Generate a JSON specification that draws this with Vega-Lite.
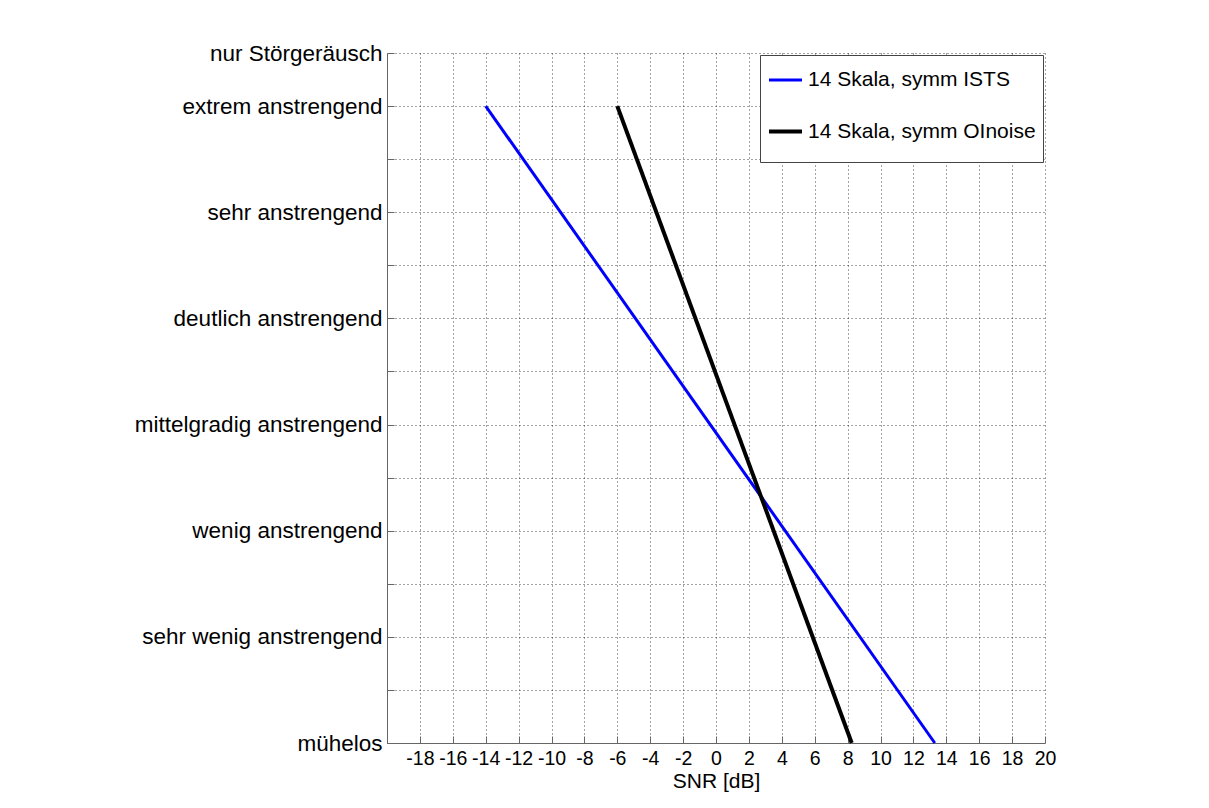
{
  "$schema": "https://vega.github.io/schema/vega-lite/v6.json",
  "width": 658,
  "height": 690,
  "autosize": {"type": "none"},
  "padding": {"left": 387, "top": 53, "right": 164, "bottom": 65},
  "background": "white",
  "config": {
    "view": {"stroke": null},
    "font": "Liberation Sans",
    "axis": {
      "domainColor": "#666666",
      "domainWidth": 1,
      "tickColor": "#666666",
      "tickSize": -7,
      "tickWidth": 1,
      "grid": true,
      "gridColor": "#333333",
      "gridDash": [1, 3],
      "gridWidth": 1,
      "gridOpacity": 0.9,
      "labelColor": "#000000",
      "labelFont": "Liberation Sans",
      "labelOverlap": false,
      "labelFlush": false,
      "titleColor": "#000000",
      "titleFont": "Liberation Sans",
      "titleFontWeight": "normal"
    }
  },
  "data": {
    "values": [
      {"snr": -14, "rating": 13, "series": "14 Skala, symm ISTS"},
      {"snr": 13.3, "rating": 1, "series": "14 Skala, symm ISTS"},
      {"snr": -6, "rating": 13, "series": "14 Skala, symm OInoise"},
      {"snr": 8.25, "rating": 1, "series": "14 Skala, symm OInoise"}
    ]
  },
  "mark": {"type": "line", "strokeCap": "butt"},
  "encoding": {
    "x": {
      "field": "snr",
      "type": "quantitative",
      "scale": {"domain": [-20, 20], "nice": false, "zero": false},
      "axis": {
        "values": [-18, -16, -14, -12, -10, -8, -6, -4, -2, 0, 2, 4, 6, 8, 10, 12, 14, 16, 18, 20],
        "title": "SNR [dB]",
        "titleFontSize": 21,
        "titleBaseline": "alphabetic",
        "titleY": 44,
        "labelFontSize": 19.5,
        "labelPadding": 13,
        "labelExpr": "'' + datum.value"
      }
    },
    "y": {
      "field": "rating",
      "type": "quantitative",
      "scale": {"domain": [1, 14], "nice": false, "zero": false},
      "axis": {
        "values": [1, 2, 3, 4, 5, 6, 7, 8, 9, 10, 11, 12, 13, 14],
        "title": null,
        "labelFontSize": 22.5,
        "labelPadding": 12,
        "labelLimit": 400,
        "labelExpr": "datum.value == 1 ? 'mühelos' : datum.value == 3 ? 'sehr wenig anstrengend' : datum.value == 5 ? 'wenig anstrengend' : datum.value == 7 ? 'mittelgradig anstrengend' : datum.value == 9 ? 'deutlich anstrengend' : datum.value == 11 ? 'sehr anstrengend' : datum.value == 13 ? 'extrem anstrengend' : datum.value == 14 ? 'nur Störgeräusch' : ''"
      }
    },
    "color": {
      "field": "series",
      "type": "nominal",
      "scale": {"domain": ["14 Skala, symm ISTS", "14 Skala, symm OInoise"], "range": ["#0000ff", "#000000"]},
      "legend": {
        "orient": "top-right",
        "offset": 2,
        "title": " ",
        "titleOrient": "bottom",
        "titleFontSize": 10,
        "titlePadding": 3,
        "symbolType": "stroke",
        "symbolSize": 1089,
        "labelFontSize": 21,
        "labelFont": "Liberation Sans",
        "labelColor": "#000000",
        "labelLimit": 400,
        "labelOffset": 4,
        "padding": 7,
        "rowPadding": 23,
        "strokeColor": "#444444",
        "fillColor": "white"
      }
    },
    "strokeWidth": {
      "field": "series",
      "type": "nominal",
      "scale": {"domain": ["14 Skala, symm ISTS", "14 Skala, symm OInoise"], "range": [3, 4]}
    }
  }
}
